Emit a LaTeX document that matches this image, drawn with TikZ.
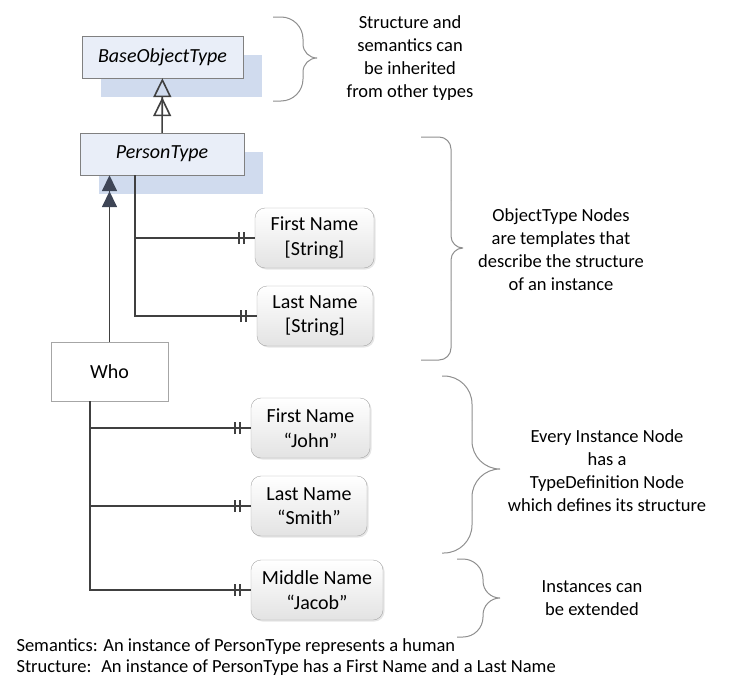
\documentclass[tikz,border=0pt]{standalone}
\usepackage{fontspec}
\setmainfont{Carlito}
\usetikzlibrary{arrows.meta,shadows,decorations.markings}
\definecolor{typefill}{HTML}{E9EEF8}
\definecolor{typeshadow}{HTML}{D0DBEE}
\definecolor{boxline}{HTML}{808080}
\definecolor{linkgray}{HTML}{404040}
\definecolor{tipdark}{HTML}{3E4556}
\definecolor{bracegray}{HTML}{8F8F8F}
\begin{document}
\begin{tikzpicture}[x=1pt,y=-1pt,
	typebox/.style={draw=boxline, fill=typefill, minimum width=#1, minimum height=42pt, inner sep=0pt,
		font=\fontsize{20}{24}\selectfont\itshape,
		drop shadow={shadow xshift=19pt, shadow yshift=-19pt, fill=typeshadow, opacity=1}},
	attrbox/.style={draw=gray!70, rounded corners=10pt, top color=white, bottom color=black!11,
		minimum width=#1, minimum height=60pt, inner sep=0pt, align=center,
		font=\fontsize{20}{24.5}\selectfont,
		drop shadow={shadow xshift=1.5pt, shadow yshift=-1.5pt, opacity=.2}},
	whobox/.style={draw=gray!70, fill=white, minimum width=117pt, minimum height=59pt,
		font=\fontsize{20}{24}\selectfont},
	note/.style={align=center, font=\fontsize{18.5}{23}\selectfont},
	bracket/.style={draw=bracegray, line width=1pt},
	inherit/.style={draw=linkgray, line width=1.6pt,
		-{Triangle[open,length=19pt,width=18pt,sep=0pt]Triangle[open,length=19pt,width=18pt,sep=0pt]}},
	instof/.style={draw=linkgray, line width=1.6pt,
		-{Triangle[length=16pt,width=15pt,sep=0pt,color=tipdark]Triangle[length=16pt,width=15pt,sep=0pt,color=tipdark]}},
	hasone/.style={draw=linkgray, line width=1.6pt,
		postaction={decorate, decoration={markings,
			mark=at position -11pt with {\draw[linkgray, line width=1.5pt] (0pt,-6pt) -- (0pt,6pt);},
			mark=at position -16pt with {\draw[linkgray, line width=1.5pt] (0pt,-6pt) -- (0pt,6pt);}}}}
	]
	\useasboundingbox (0,0) rectangle (739,696);

	% type definitions
	\node[typebox=161pt]	(base) at (162.5,57) {BaseObjectType};
	\node[typebox=164pt]	(person) at (162,154) {PersonType};
	\node[attrbox=119pt]	(pfirst) at (314.5,238) {First Name\\{[String]}};
	\node[attrbox=116pt]	(plast) at (315,316) {Last Name\\{[String]}};

	% instance
	\node[whobox]	(who) at (109.5,371.5) {Who};
	\node[attrbox=119pt]	(wfirst) at (310.5,428) {First Name\\“John”};
	\node[attrbox=116pt]	(wlast) at (309,506) {Last Name\\“Smith”};
	\node[attrbox=132pt]	(wmiddle) at (317,590) {Middle Name\\“Jacob”};

	\coordinate (ptrunk) at (135,175);
	\coordinate (wtrunk) at (90,401);

	\draw[inherit] (person) -- (base);
	\draw[instof] (who) -- (who |- person.south);
	\draw[hasone] (ptrunk) |- (pfirst.west);
	\draw[hasone] (ptrunk) |- (plast.west);
	\draw[hasone] (wtrunk) |- (wfirst.west);
	\draw[hasone] (wtrunk) |- (wlast.west);
	\draw[hasone] (wtrunk) |- (wmiddle.west);

	% braces
	\draw[bracket, rounded corners=22pt] (273,17) -| (303,40) (273,101) -| (303,76);
	\draw[bracket, rounded corners=14pt] (303,40) |- (317,58) (303,76) |- (317,58);
	\draw[bracket, rounded corners=12pt] (421,137) -| (451,200) (421,360) -| (451,300);
	\draw[bracket, rounded corners=12pt] (451,200) |- (463,248) (451,300) |- (463,248);
	\draw[bracket, rounded corners=28pt] (442,376) -| (472,420) (442,553) -| (472,510);
	\draw[bracket, rounded corners=28pt] (472,420) |- (500,469) (472,510) |- (500,469);
	\draw[bracket, rounded corners=20pt] (457,559) -| (483,579) (457,637) -| (483,617);
	\draw[bracket, rounded corners=17pt] (483,579) |- (500,598) (483,617) |- (500,598);

	% notes
	\node[note]	(inherits) at (410,58.5) {Structure and\\semantics can\\be inherited\\from other types};
	\node[note]	(templates) at (561,250) {ObjectType Nodes\\are templates that\\describe the structure\\of an instance};
	\node[note]	(typedef) at (607,470.5) {Every Instance Node\\has a\\TypeDefinition Node\\which defines its structure};
	\node[note]	(extend) at (592,598) {Instances can\\be extended};
	\node[anchor=west, align=left, font=\fontsize{18.5}{21}\selectfont]	(caption) at (13,657.5)
		{Semantics: An instance of PersonType represents a human\\Structure:~ An instance of PersonType has a First Name and a Last Name};
\end{tikzpicture}
\end{document}
